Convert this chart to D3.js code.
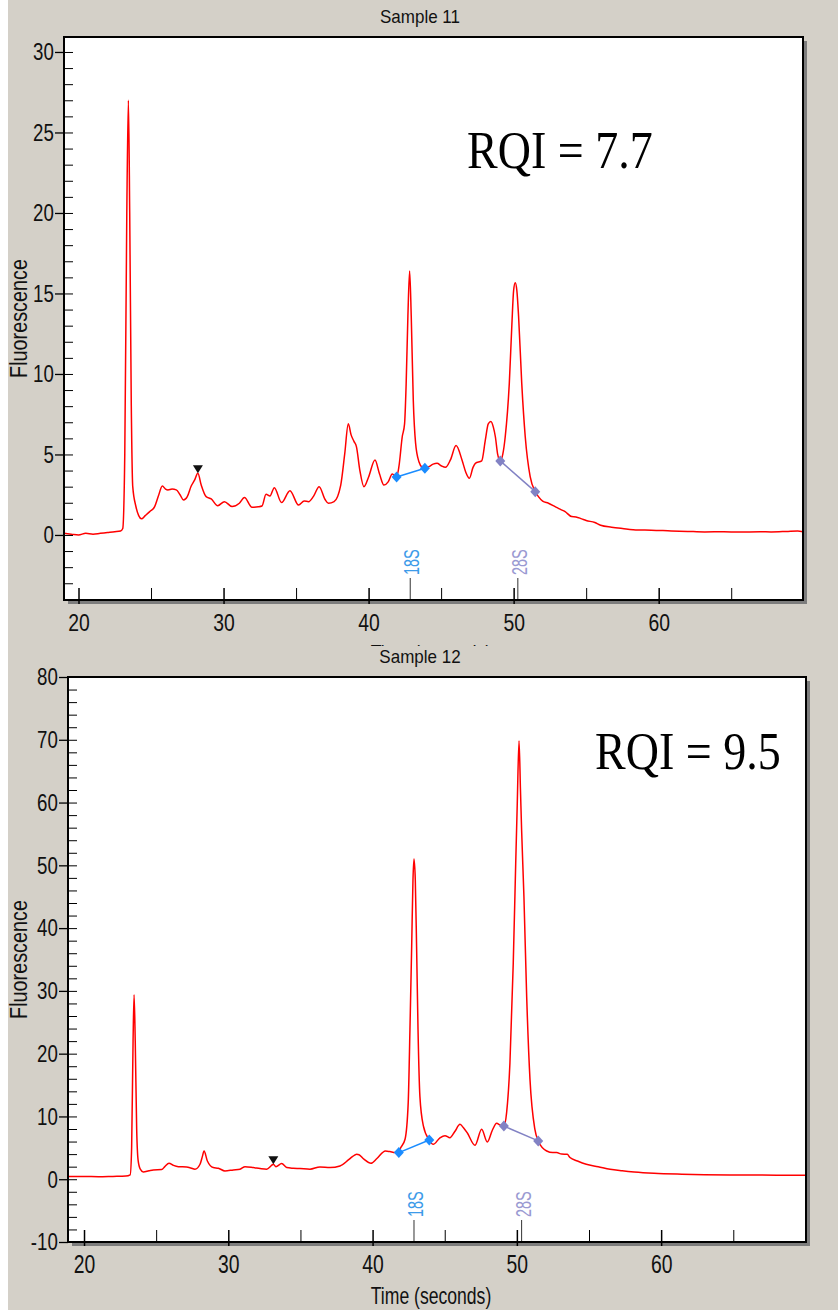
<!DOCTYPE html>
<html>
<head>
<meta charset="utf-8">
<script src="https://cdn.jsdelivr.net/npm/d3@7"></script>
<style>
  body { margin: 0; background: #fff; }
  svg { display: block; }
  text { font-family: "Liberation Sans", Arial, sans-serif; }
</style>
</head>
<body>
<div id="chart"></div>
<script>
// Sample 11 trace (time in s, fluorescence)
var sample11Time = [19.0, 19.5, 20.0, 20.5, 21.0, 21.5, 22.0, 22.5, 22.9, 23.05, 23.19, 23.33, 23.44, 23.53, 23.64, 23.74, 23.95, 24.15, 24.34, 24.6,
    24.91, 25.25, 25.5, 25.78, 26.0, 26.17, 26.45, 26.74, 27.0, 27.24, 27.5, 27.77, 28.0, 28.23, 28.46, 28.8, 29.15, 29.6, 30.06, 30.59,
    31.09, 31.44, 31.96, 32.4, 32.65, 32.93, 33.2, 33.5, 34.0, 34.58, 35.17, 35.56, 35.86, 36.2, 36.59, 37.0, 37.23, 37.62, 38.08, 38.35,
    38.6, 38.8, 39.0, 39.16, 39.4, 39.68, 40.0, 40.44, 40.75, 41.06, 41.35, 41.63, 41.93, 42.09, 42.32, 42.48, 42.59, 42.71, 42.83, 42.94,
    43.08, 43.24, 43.47, 43.7, 43.88, 44.15, 44.45, 44.72, 45.0, 45.3, 45.64, 46.03, 46.44, 46.7, 46.95, 47.2, 47.36, 47.8, 48.05, 48.25,
    48.43, 48.6, 48.74, 48.9, 49.08, 49.25, 49.42, 49.7, 49.88, 50.0, 50.11, 50.22, 50.34, 50.56, 50.8, 51.14, 51.49, 51.71, 52.0, 52.4,
    52.86, 53.2, 53.55, 54.0, 54.3, 54.69, 55.0, 55.6, 56.0, 56.75, 57.5, 58.58, 59.5, 60.87, 62.0, 63.17, 64.5, 65.5, 67.0, 67.75,
    68.8, 69.58, 69.95];
var sample11Signal = [0.1, 0.05, 0.0, 0.1, 0.05, 0.1, 0.15, 0.2, 0.25, 0.4, 5, 20, 27.0, 20, 8, 3, 1.8, 1.2, 1.0, 1.2,
    1.45, 1.76, 2.4, 3.04, 2.85, 2.8, 2.85, 2.8, 2.5, 2.17, 2.38, 3.04, 3.4, 3.83, 3.1, 2.38, 2.24, 1.82, 2.07, 1.76,
    1.97, 2.32, 1.72, 1.75, 1.8, 2.53, 2.42, 2.94, 2.01, 2.75, 1.86, 2.11, 2.07, 2.4, 3.0, 2.2, 1.97, 2.07, 3.1, 5.0,
    6.9, 6.2, 5.8, 5.49, 4.0, 3.0, 3.6, 4.66, 3.8, 3.1, 3.3, 3.79, 3.6, 4.24, 6.1, 6.9, 9.4, 13.6, 16.4, 13.6,
    8.4, 5.7, 4.55, 4.2, 4.14, 4.24, 4.4, 4.45, 4.3, 4.2, 4.66, 5.55, 4.66, 3.9, 3.52, 4.2, 4.45, 4.6, 5.9, 6.9,
    7.04, 6.7, 6.1, 5.0, 4.6, 5.0, 6.1, 9.4, 13.1, 15.2, 15.67, 15.2, 13.6, 9.4, 6.1, 3.62, 2.69, 2.38, 2.1, 1.97,
    1.76, 1.6, 1.45, 1.14, 1.12, 1.0, 0.9, 0.77, 0.6, 0.48, 0.4, 0.31, 0.3, 0.25, 0.22, 0.19, 0.2, 0.18, 0.2, 0.19,
    0.22, 0.25, 0.2];

// Sample 12 trace
var sample12Time = [18.89, 20.0, 21.0, 22.0, 22.9, 23.2, 23.3, 23.4, 23.47, 23.55, 23.65, 23.75, 23.9, 24.11, 24.5, 24.8, 25.38, 25.6, 25.89, 26.2,
    26.54, 27.11, 27.4, 27.69, 28.04, 28.2, 28.32, 28.55, 28.96, 29.31, 29.77, 30.35, 30.81, 31.16, 31.73, 32.2, 32.66, 33.0, 33.12, 33.3,
    33.7, 34.05, 34.5, 34.97, 35.66, 36.35, 37.05, 37.74, 38.32, 38.6, 38.9, 39.06, 39.4, 39.89, 40.3, 40.89, 41.2, 41.55, 41.82, 41.9,
    42.25, 42.47, 42.59, 42.71, 42.8, 42.87, 42.96, 43.05, 43.15, 43.28, 43.52, 43.93, 44.2, 44.67, 45.02, 45.36, 45.7, 46.06, 46.3, 46.56,
    47.1, 47.56, 47.95, 48.3, 48.6, 48.85, 49.1, 49.29, 49.52, 49.75, 49.92, 50.03, 50.15, 50.25, 50.33, 50.49, 50.68, 50.91, 51.25, 51.48,
    52.07, 52.49, 52.76, 53.1, 53.49, 53.68, 54.2, 54.81, 55.64, 56.46, 57.3, 58.13, 59.5, 61.44, 63.0, 64.76, 66.5, 68.0, 69.73, 70.04];
var sample12Signal = [0.43, 0.45, 0.4, 0.45, 0.5, 0.7, 5, 22, 29.4, 22, 8, 3, 1.6, 1.16, 1.35, 1.48, 1.54, 2.0, 2.54, 2.2,
    2.0, 1.95, 1.8, 1.59, 2.38, 3.6, 4.5, 2.9, 1.86, 1.75, 1.32, 1.48, 1.59, 2.0, 1.86, 1.7, 1.6, 2.2, 2.4, 2.0,
    2.49, 1.86, 1.75, 1.7, 1.59, 1.96, 1.86, 2.12, 3.07, 3.6, 3.97, 3.9, 3.2, 2.54, 3.3, 4.5, 4.4, 4.24, 4.24, 4.77,
    6.36, 12.2, 23.8, 37.1, 47.7, 51.0, 47.7, 37.1, 23.8, 13.2, 8.5, 6.25, 5.56, 6.6, 6.94, 6.6, 7.6, 8.74, 8.2, 7.4,
    5.4, 7.95, 5.93, 7.8, 8.9, 8.6, 8.47, 10.6, 18.5, 34.4, 50.3, 60, 69.8, 62, 55.6, 45, 29.1, 15.9, 7.95, 6.1,
    4.5, 4.24, 4.24, 4.0, 3.97, 3.45, 2.9, 2.38, 2.0, 1.59, 1.35, 1.16, 0.95, 0.8, 0.72, 0.69, 0.66, 0.65, 0.64, 0.64];

// peak marker (black triangle), 18S / 28S baseline points, label positions
var sample11Marker = [28.23, 3.83];
var sample11Band18S = [[41.93, 3.6], [43.88, 4.14]];
var sample11Band28S = [[49.08, 4.6], [51.49, 2.69]];
var sample11LabelTimes = [42.87, 50.29];
var sample12Marker = [33.12, 2.4];
var sample12Band18S = [[41.82, 4.24], [43.93, 6.25]];
var sample12Band28S = [[49.1, 8.47], [51.48, 6.1]];
var sample12LabelTimes = [42.87, 50.33];
var bandNames = ["18S", "28S"];

var xMajorTicks = [20, 30, 40, 50, 60];
var xMinorTicks = [20, 25, 30, 35, 40, 45, 50, 55, 60, 65];
var sample11YMajor = [0, 5, 10, 15, 20, 25, 30];
var sample11YMinor = d3.range(-4, 31, 1);
var sample12YMajor = [-10, 0, 10, 20, 30, 40, 50, 60, 70, 80];
var sample12YMinor = d3.range(-10, 81, 2);

var svg = d3.select("#chart").append("svg")
    .attr("width", 838)
    .attr("height", 1315);

// window background
svg.append("rect")
    .attr("x", 8).attr("y", 0)
    .attr("width", 830).attr("height", 1310)
    .attr("fill", "#d4d0c8");

// the old software draws its labels in a condensed face: squeeze Liberation Sans
function squeezed(x, y, sx, sy, rot) {
    return "translate(" + x + "," + y + ")" + (rot ? " rotate(" + rot + ")" : "") + " scale(" + sx + "," + sy + ")";
}

function drawPanel(p) {
    var g = svg.append("g");

    if (p.cover) {
        g.append("rect")
            .attr("x", 8).attr("y", p.cover)
            .attr("width", 830).attr("height", 1310 - p.cover)
            .attr("fill", "#d4d0c8");
    }

    var x = d3.scaleLinear().domain(p.xDomain).range([p.left, p.right]);
    var y = d3.scaleLinear().domain(p.yDomain).range([p.bottom, p.top]);

    // title
    g.append("text")
        .attr("transform", squeezed(420, p.titleY, 1, 1.08))
        .attr("text-anchor", "middle")
        .style("font-size", "17px")
        .attr("fill", "#111")
        .text(p.title);

    // shadow + plot area
    g.append("rect")
        .attr("x", p.left + 4).attr("y", p.top + 4)
        .attr("width", p.right - p.left).attr("height", p.bottom - p.top)
        .attr("fill", "#7d7d7d");
    g.append("rect")
        .attr("x", p.left).attr("y", p.top)
        .attr("width", p.right - p.left).attr("height", p.bottom - p.top)
        .attr("fill", "#fff");

    var clipId = "clip-" + p.id;
    svg.append("clipPath").attr("id", clipId)
        .append("rect")
        .attr("x", p.left).attr("y", p.top)
        .attr("width", p.right - p.left).attr("height", p.bottom - p.top);

    var plot = g.append("g").attr("clip-path", "url(#" + clipId + ")");

    var pts = p.time.map(function (t, i) { return [t, p.signal[i]]; });
    var line = d3.line()
        .x(function (d) { return x(d[0]); })
        .y(function (d) { return y(d[1]); })
        .curve(d3.curveMonotoneX);

    plot.append("path")
        .attr("d", line(pts))
        .attr("fill", "none")
        .attr("stroke", "#ff0000")
        .attr("stroke-width", 1.5);

    // 18S / 28S baseline segments
    var bands = [p.band18S, p.band28S];
    var bandColors = ["#1a8cff", "#8282c4"];
    var labelColors = ["#3d9be9", "#9a9ad2"];
    bands.forEach(function (b, i) {
        plot.append("line")
            .attr("x1", x(b[0][0])).attr("y1", y(b[0][1]))
            .attr("x2", x(b[1][0])).attr("y2", y(b[1][1]))
            .attr("stroke", bandColors[i])
            .attr("stroke-width", 1.5);
        plot.selectAll(null)
            .data(b)
            .enter()
            .append("path")
            .attr("d", "M0,-5.5L5,0L0,5.5L-5,0Z")
            .attr("transform", function (d) { return "translate(" + x(d[0]) + "," + y(d[1]) + ")"; })
            .attr("fill", bandColors[i]);
    });

    // peak marker
    plot.append("path")
        .attr("d", "M-5,-8L5,-8L0,0Z")
        .attr("transform", "translate(" + x(p.marker[0]) + "," + y(p.marker[1]) + ")")
        .attr("fill", "#111");

    // band labels below the trace
    p.labelTimes.forEach(function (t, i) {
        var lx = x(t);
        g.append("line")
            .attr("x1", lx).attr("x2", lx)
            .attr("y1", p.bottom - 22).attr("y2", p.bottom)
            .attr("stroke", "#333")
            .attr("stroke-width", 1);
        g.append("text")
            .attr("transform", squeezed(lx + 9, p.bottom - 25, 0.85, 1.25, -90))
            .style("font-size", "17px")
            .attr("fill", labelColors[i])
            .text(bandNames[i]);
    });

    // RQI text
    g.append("text")
        .attr("transform", squeezed(p.rqiX, p.rqiY, 1, 1.15))
        .style("font-family", "Liberation Serif, DejaVu Serif, serif")
        .style("font-size", "46px")
        .attr("fill", "#000")
        .text(p.rqi);

    // y axis: major ticks outside with labels, all ticks inside
    var yOut = g.append("g")
        .attr("transform", "translate(" + p.left + ",0)")
        .call(d3.axisLeft(y).tickValues(p.yMajor).tickSize(9).tickPadding(3)
            .tickFormat(function (d) { return String(d); }));
    yOut.select(".domain").remove();
    yOut.selectAll(".tick line").attr("stroke", "#000").attr("stroke-width", 1.3);
    yOut.selectAll(".tick text")
        .style("font-size", "22px")
        .style("font-family", "Liberation Sans, Arial, sans-serif")
        .attr("fill", "#111")
        .attr("transform", "scale(0.85,1.12)");

    var yIn = g.append("g")
        .attr("transform", "translate(" + p.left + ",0)")
        .call(d3.axisRight(y).tickValues(p.yMinor).tickSize(9).tickFormat(""));
    yIn.select(".domain").remove();
    yIn.selectAll(".tick line").attr("stroke", "#000");

    // x axis
    var xOut = g.append("g")
        .attr("transform", "translate(0," + p.bottom + ")")
        .call(d3.axisBottom(x).tickValues(xMajorTicks).tickSize(4).tickPadding(p.xPad)
            .tickFormat(function (d) { return String(d); }));
    xOut.select(".domain").remove();
    xOut.selectAll(".tick line").attr("stroke", "#000").attr("stroke-width", 1.5);
    xOut.selectAll(".tick text")
        .style("font-size", "22px")
        .style("font-family", "Liberation Sans, Arial, sans-serif")
        .attr("fill", "#111")
        .attr("transform", "scale(0.88," + p.xStretch + ")");

    var xIn = g.append("g")
        .attr("transform", "translate(0," + p.bottom + ")")
        .call(d3.axisTop(x).tickValues(xMinorTicks).tickSize(12).tickFormat(""));
    xIn.select(".domain").remove();
    xIn.selectAll(".tick line")
        .attr("stroke", "#000")
        .attr("stroke-width", function (d) { return d % 10 === 0 ? 1.5 : 1; });

    // frame
    g.append("rect")
        .attr("x", p.left).attr("y", p.top)
        .attr("width", p.right - p.left).attr("height", p.bottom - p.top)
        .attr("fill", "none")
        .attr("stroke", "#000")
        .attr("stroke-width", 2);

    // axis titles
    g.append("text")
        .attr("transform", squeezed(27, (p.top + p.bottom) / 2, 0.9, 1.1, -90))
        .attr("text-anchor", "middle")
        .style("font-size", "22px")
        .attr("fill", "#111")
        .text("Fluorescence");

    g.append("text")
        .attr("transform", squeezed(431, p.xTitleY, 0.8, 1.08))
        .attr("text-anchor", "middle")
        .style("font-size", "22px")
        .attr("fill", "#111")
        .text("Time (seconds)");
}

drawPanel({
    id: "s11", title: "Sample 11", titleY: 23,
    left: 64, right: 803, top: 37, bottom: 600,
    xDomain: [19.0, 69.95], yDomain: [-4.04, 30.93],
    yMajor: sample11YMajor, yMinor: sample11YMinor,
    time: sample11Time, signal: sample11Signal,
    marker: sample11Marker, band18S: sample11Band18S, band28S: sample11Band28S,
    labelTimes: sample11LabelTimes,
    rqi: "RQI = 7.7", rqiX: 467, rqiY: 168,
    xPad: 9, xStretch: 1.08, xTitleY: 662
});

drawPanel({
    id: "s12", title: "Sample 12", titleY: 663, cover: 646,
    left: 68, right: 806, top: 677, bottom: 1242,
    xDomain: [18.89, 70.04], yDomain: [-10, 80],
    yMajor: sample12YMajor, yMinor: sample12YMinor,
    time: sample12Time, signal: sample12Signal,
    marker: sample12Marker, band18S: sample12Band18S, band28S: sample12Band28S,
    labelTimes: sample12LabelTimes,
    rqi: "RQI = 9.5", rqiX: 595, rqiY: 769,
    xPad: 6, xStretch: 1.2, xTitleY: 1304
});
</script>
</body>
</html>
